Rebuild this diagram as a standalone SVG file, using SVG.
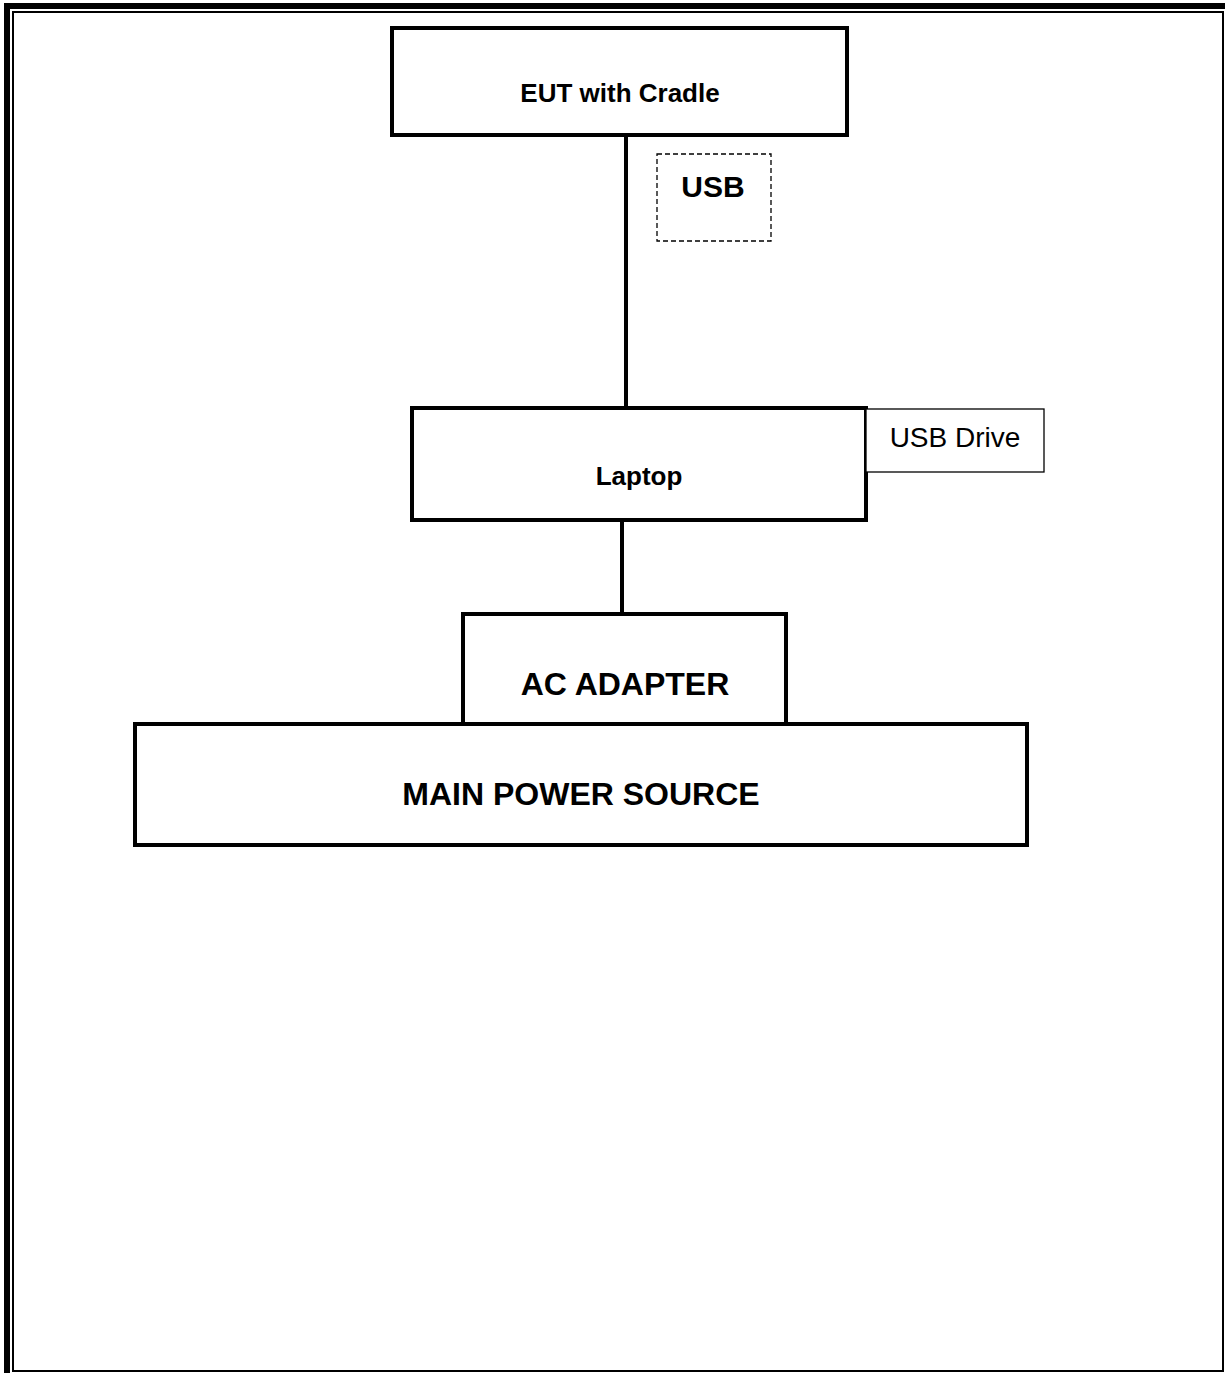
<svg xmlns="http://www.w3.org/2000/svg" width="1225" height="1373" viewBox="0 0 1225 1373">
<style>
.box{fill:#fff;stroke:#000;stroke-width:4}
.thin{fill:#fff;stroke:#000;stroke-width:1.3}
.dash{fill:none;stroke:#000;stroke-width:1.3;stroke-dasharray:5,3}
.wire{stroke:#000;stroke-width:4;fill:none}
.b{font-family:"Liberation Sans",Arial,sans-serif;font-weight:bold;text-anchor:middle;fill:#000}
.r{font-family:"Liberation Sans",Arial,sans-serif;text-anchor:middle;fill:#000}
</style>
<rect x="0" y="0" width="1225" height="1373" fill="#fff"/>
<g id="frame">
<rect x="4" y="3" width="1221" height="6" fill="#000"/>
<rect x="4" y="3" width="6" height="1370" fill="#000"/>
<rect x="13" y="12" width="1210" height="1359" fill="none" stroke="#000" stroke-width="2"/>
</g>
<g id="connectors">
<line class="wire" x1="626" y1="135" x2="626" y2="408"/>
<line class="wire" x1="622" y1="520" x2="622" y2="614"/>
</g>
<g id="eut">
<rect class="box" x="392" y="28" width="455" height="107"/>
<text class="b" x="620" y="102" font-size="26">EUT with Cradle</text>
</g>
<g id="usb-label">
<rect class="dash" x="657" y="154" width="114" height="87"/>
<text class="b" x="713" y="197" font-size="30">USB</text>
</g>
<g id="laptop">
<rect class="box" x="412" y="408" width="454" height="112"/>
<text class="b" x="639" y="485" font-size="26">Laptop</text>
</g>
<g id="usb-drive">
<rect class="thin" x="866" y="409" width="178" height="63"/>
<text class="r" x="955" y="447" font-size="28">USB Drive</text>
</g>
<g id="ac-adapter">
<rect class="box" x="463" y="614" width="323" height="110"/>
<text class="b" x="625" y="695" font-size="32">AC ADAPTER</text>
</g>
<g id="main-power">
<rect class="box" x="135" y="724" width="892" height="121"/>
<text class="b" x="581" y="805" font-size="32">MAIN POWER SOURCE</text>
</g>
</svg>
